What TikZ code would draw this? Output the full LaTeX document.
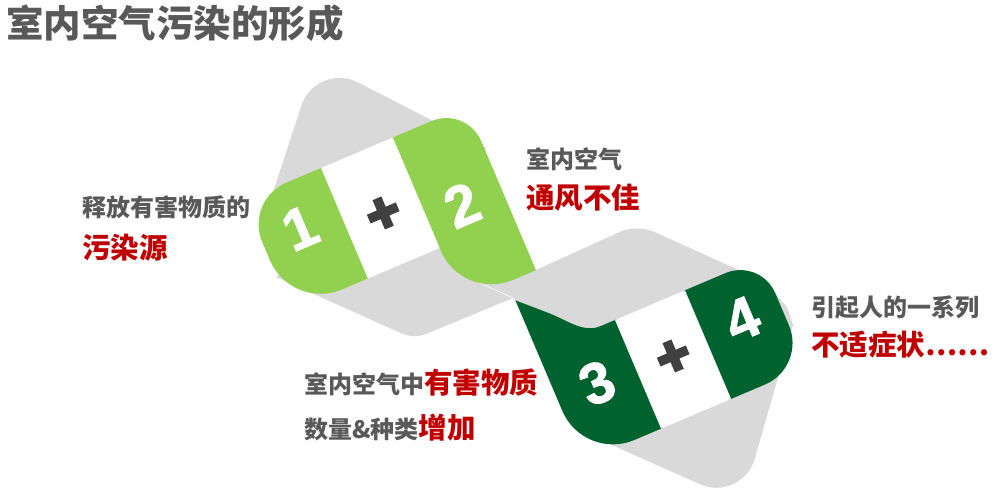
\documentclass[tikz,border=0pt]{standalone}
\usepackage{fontspec}
\newfontfamily\cjk{Noto Sans CJK SC}
\newfontfamily\digitfont{Liberation Sans}[BoldFeatures={FakeBold=1.5}]
\newfontfamily\plusfont{Liberation Sans}[BoldFeatures={FakeBold=6}]
\definecolor{lightgreen}{HTML}{92D050}
\definecolor{darkgreen}{HTML}{00622E}
\definecolor{ribbongrey}{HTML}{D9D9D9}
\definecolor{textgrey}{HTML}{595959}
\definecolor{textred}{HTML}{C00000}
\definecolor{plusgrey}{HTML}{404040}
\tikzset{
  titletext/.style={anchor=base west, inner sep=0pt, text=textgrey, font=\cjk\bfseries\fontsize{37.5}{40}\selectfont},
  graytext/.style={anchor=base west, inner sep=0pt, text=textgrey, font=\cjk\bfseries\fontsize{24}{28}\selectfont},
  redtext/.style={anchor=base west, inner sep=0pt, text=textred, font=\cjk\bfseries\fontsize{28.5}{32}\selectfont},
  digit/.style={rotate=23, inner sep=0pt, text=white, font=\digitfont\bfseries\fontsize{58}{60}\selectfont},
  plussign/.style={rotate=23, inner sep=0pt, text=plusgrey, font=\plusfont\bfseries\fontsize{56}{60}\selectfont}
}
\begin{document}
\begin{tikzpicture}[x=1pt, y=-1pt]
    \fill[white] (0,0) rectangle (1003,499);
    \useasboundingbox (0,0) rectangle (1003,499);

    % 灰色底带(上)
    \fill[ribbongrey] (330,235) -- (260,232) -- (301.4,105.5)
        .. controls (309.1,82.1) and (335.8,71.1) .. (357.7,82.3)
        -- (486,148) -- (470,200) -- cycle;
    % 灰色底带(中、下)
    \fill[ribbongrey] (470,245) -- (330,240) -- (276,277) -- (401.4,333.3)
        .. controls (409.4,336.9) and (418.7,337.1) .. (426.8,333.7)
        -- (513,298) -- (560,340) -- (576,429) -- (700,484.3)
        .. controls (722.2,494.2) and (748,482.2) .. (754.7,458.8)
        -- (793,325) -- (787,307) -- (765,282) -- (655.7,232.5)
        .. controls (643.9,227.1) and (630.1,227.1) .. (618.3,232.5)
        -- (536,270) -- cycle;
    % 折痕
    \draw[white, line width=0.6pt] (458,273) -- (513,298);

    % 浅绿带: 1 + 2
    \begin{scope}[shift={(321,168)}, rotate=23]
        \fill[lightgreen] (2,0) -- (-38,0) .. controls (-62.8,0) and (-83,20.2) .. (-83,45)
            -- (-83,65) .. controls (-83,95.4) and (-58.4,120) .. (-28,120) -- (2,120) -- cycle;
        \fill[lightgreen] (76,0) -- (120,0) .. controls (141,0) and (158,17) .. (158,38)
            -- (158,178) -- (133,178) .. controls (102.6,178) and (78,153.4) .. (78,123)
            -- (78,120) -- (76,120) -- cycle;
        \fill[white] (0,0) rectangle (78,120);
    \end{scope}

    % 深绿带: 3 + 4
    \begin{scope}[shift={(615,320)}, rotate=23]
        \fill[darkgreen] (2,0) -- (-15,0) .. controls (-34,0) and (-42,-16) .. (-58,-32) -- (-84,-57)
            -- (-84,63) .. controls (-84,93.4) and (-59.4,118) .. (-29,118) -- (2,118) -- cycle;
        \fill[darkgreen] (74,0) -- (120,0) .. controls (141,0) and (158,17) .. (158,38)
            -- (158,73) .. controls (158,97.8) and (137.8,118) .. (113,118) -- (74,118) -- cycle;
        \fill[white] (0,0) rectangle (76,118);
    \end{scope}

    % 数字与加号
    \node[digit] (one) at (300,228) {1};
    \node[plussign] (plusA) at (384,215) {+};
    \node[digit] (two) at (462,205) {2};
    \node[digit] (three) at (597,383) {3};
    \node[plussign] (plusB) at (674,358) {+};
    \node[digit] (four) at (742,319) {4};

    % 标题
    \node[titletext] (title) at (6,37.7) {室内空气污染的形成};

    % 说明文字
    \node[graytext] (srcA) at (82,216.6) {释放有害物质的};
    \node[redtext] (srcB) at (82,258.3) {污染源};
    \node[graytext] (airA) at (526,168.6) {室内空气};
    \node[redtext] (airB) at (526,208.3) {通风不佳};
    \node[graytext] (harmA) at (304,393.4) {室内空气中{\color{textred}\fontsize{28.5}{32}\selectfont 有害物质}};
    \node[graytext] (harmB) at (304,438.3) {数量\&种类{\color{textred}\fontsize{28.5}{32}\selectfont 增加}};
    \node[graytext] (illA) at (811,316.6) {引起人的一系列};
    \node[redtext] (illB) at (811,355.3) {不适症状……};
\end{tikzpicture}
\end{document}
